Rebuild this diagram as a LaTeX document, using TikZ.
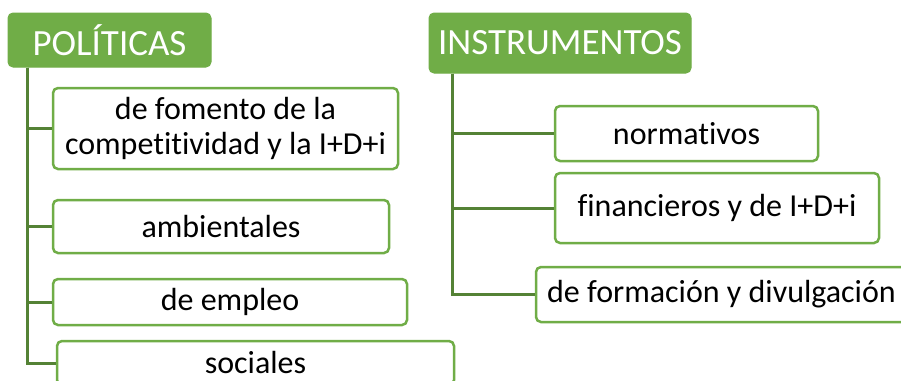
\documentclass[tikz,border=0pt]{standalone}
\usepackage{fontspec}
\setmainfont{Carlito}[RawFeature={-liga;-clig;-dlig;-calt}]
\usepackage{tikz}
\usetikzlibrary{positioning}
\definecolor{ofgreen}{HTML}{70AD47}
\definecolor{ofdark}{HTML}{548235}

\begin{document}
\begin{tikzpicture}[x=1pt, y=-1pt,
                headnode/.style={draw=ofgreen, fill=ofgreen, line width=1pt, rounded corners=5pt,
                  inner sep=0pt, text=white, font=\fontsize{37}{40}\selectfont},
                itemnode/.style={draw=ofgreen, fill=white, line width=2.5pt, rounded corners=5pt,
                  inner sep=0pt, align=center, font=\fontsize{32}{35}\selectfont},
                branch/.style={draw=ofdark, line width=3pt}]
                \useasboundingbox (0,0) rectangle (901,380);
                \clip (0,0) rectangle (901,380);

                % Politicas
                \node[headnode, minimum width=203pt, minimum height=54pt] (pol) at (109.5,40) {POLÍTICAS};
                \node[itemnode, minimum width=345pt, minimum height=81pt] (fom) at (225.5,128.5) {de fomento de la\\competitividad y la I+D+i};
                \node[itemnode, minimum width=336pt, minimum height=53pt] (amb) at (221,226.5) {ambientales};
                \node[itemnode, minimum width=354pt, minimum height=46pt] (emp) at (230,302) {de empleo};
                \node[itemnode, minimum width=397pt, minimum height=44pt] (soc) at (255.5,363) {sociales};

                % Instrumentos
                \node[headnode, minimum width=262pt, minimum height=60pt] (ins) at (560,43) {INSTRUMENTOS};
                \node[itemnode, minimum width=263pt, minimum height=55pt] (nor) at (686.5,133.5) {normativos};
                \node[itemnode, minimum width=324pt, minimum height=70pt] (fin) at (717,208) {financieros y de I+D+i};
                \node[itemnode, minimum width=371pt, minimum height=55pt] (div) at (721.5,294.5) {de formación y divulgación};

                % Edges
                \foreach \c in {fom,amb,emp,soc}
                  \draw[branch] ([xshift=20pt]pol.south west) |- (\c.west);
                \foreach \c in {nor,fin,div}
                  \draw[branch] ([xshift=24pt]ins.south west) |- (\c.west);
            \end{tikzpicture}
\end{document}
